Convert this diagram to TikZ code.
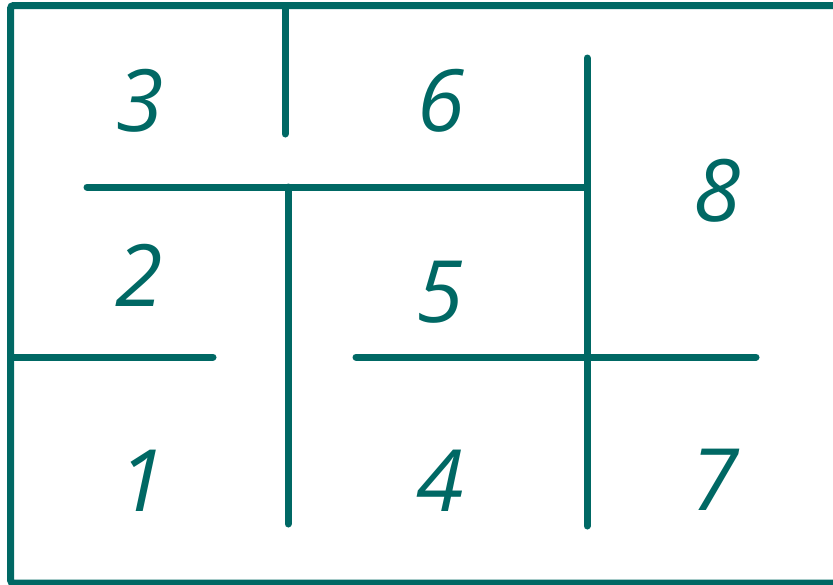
\documentclass[tikz,border=0pt]{standalone}
\usepackage{fontspec}
\setmainfont{Open Sans}
\definecolor{teal1}{HTML}{006864}
\begin{document}
\begin{tikzpicture}[x=1pt,y=-1pt,
  wall/.style={draw=teal1,line width=7pt,line cap=round},
  frame/.style={draw=teal1,line width=7pt,rounded corners=3pt},
  num/.style={text=teal1,inner sep=0pt,font=\fontsize{86}{86}\selectfont\itshape}]
\useasboundingbox (0,0) rectangle (833,584);
\begin{scope}
\clip (0,0) rectangle (833,584);
\draw[frame] (850,5.5) -- (10.5,5.5) -- (10.5,583) -- (850,583);
\end{scope}
% walls
\draw[wall] (285,5.5) -- (285,134);
\draw[wall] (87,187) -- (587,187);
\draw[wall] (587,58) -- (587,526);
\draw[wall] (288,187) -- (288,524);
\draw[wall] (10.5,357) -- (213,357);
\draw[wall] (356,357) -- (756,357);
% labels
\node[num] (n3) at (140,101) {3};
\node[num] (n6) at (441,101) {6};
\node[num] (n8) at (717,191) {8};
\node[num] (n2) at (139,275) {2};
\node[num] (n5) at (440,292) {5};
\node[num] (n1) at (142,481) {1};
\node[num] (n4) at (440,481) {4};
\node[num] (n7) at (715,480) {7};
\end{tikzpicture}
\end{document}
